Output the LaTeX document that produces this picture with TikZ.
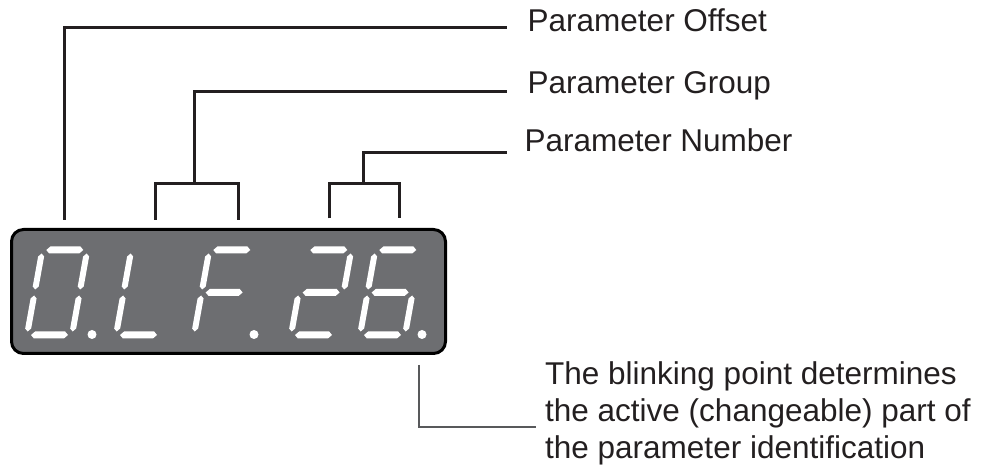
\documentclass[tikz,border=0pt]{standalone}
\usepackage{fontspec}
\setmainfont{Liberation Sans}
\usetikzlibrary{calc, positioning}
\definecolor{panelgray}{RGB}{109,110,113}
\definecolor{leadgray}{RGB}{88,89,91}
\definecolor{inkblack}{RGB}{35,31,32}

% one segment of a seven-segment digit (local cell coordinates)
\newcommand{\hseg}[3]{\fill[white] (#1,#3) -- (#1+3.5,#3+3.5) -- (#2-3.5,#3+3.5) -- (#2,#3) -- (#2-3.5,#3-3.5) -- (#1+3.5,#3-3.5) -- cycle;}
\newcommand{\vseg}[3]{\fill[white] (#1,#2) -- (#1+3,#2+3) -- (#1+3,#3-3) -- (#1,#3) -- (#1-3,#3-3) -- (#1-3,#2+3) -- cycle;}
\newcommand{\sega}{\hseg{4}{41}{85}}
\newcommand{\segb}{\vseg{45}{45.5}{81.5}}
\newcommand{\segc}{\vseg{45}{3.5}{39.5}}
\newcommand{\segd}{\hseg{4}{41}{0}}
\newcommand{\sege}{\vseg{0}{3.5}{39.5}}
\newcommand{\segf}{\vseg{0}{45.5}{81.5}}
\newcommand{\segg}{\hseg{4}{41}{42.5}}

\begin{document}
\begin{tikzpicture}[x=1pt, y=1pt,
    panel/.style={draw=black, line width=3pt, fill=panelgray, rounded corners=12pt,
                  minimum width=434pt, minimum height=124pt, inner sep=0pt},
    digitcell/.style={shift={(#1,133)}, xslant=0.18},
    tagtext/.style={inner sep=0pt, text=inkblack, font=\fontsize{31.5}{37}\selectfont},
    leader/.style={draw=inkblack, line width=3pt},
    thinleader/.style={draw=leadgray, line width=2pt}]
    \useasboundingbox (0,0) rectangle (986,468);

    % display panel
    \node[panel] (disp) at (228.5,176.5) {};

    % digits: 0. L F. 2 6.
    \begin{scope}[digitcell=27]  \sega\segb\segc\segd\sege\segf \end{scope}
    \begin{scope}[digitcell=116] \segd\sege\segf \end{scope}
    \begin{scope}[digitcell=194] \sega\sege\segf\segg \end{scope}
    \begin{scope}[digitcell=291] \sega\segb\segg\sege\segd \end{scope}
    \begin{scope}[digitcell=360] \sega\segf\segg\sege\segc\segd \end{scope}

    % decimal points
    \fill[white] (92,133.5) circle (4.5);
    \fill[white] (254,133.5) circle (4.5);
    \fill[white] (422,133.5) circle (4.5);

    % labels
    \node[tagtext, anchor=base west] (lbloffset) at (527.5,436) {Parameter Offset};
    \node[tagtext, anchor=base west] (lblgroup) at (527.5,374) {Parameter Group};
    \node[tagtext, anchor=base west] (lblnumber) at (524.5,316.3) {Parameter Number};
    \node[tagtext, anchor=north west, align=left] (lblblink) at (545,107)
        {The blinking point determines\\the active (changeable) part of\\the parameter identification};

    % bracket ends above the display
    \coordinate (ofsleg) at (64,248);
    \coordinate (grpleft) at (155,248);
    \coordinate (grpright) at (238,248);
    \coordinate (numleft) at (329,249.7);
    \coordinate (numright) at (399,249.7);
    \coordinate (blink) at (419,103);

    % leader lines
    \draw[leader] (ofsleg) |- ($(lbloffset.base west)+(-21,4)$);
    \draw[leader] (grpleft) -- ++(0,36.7) -| (grpright);
    \draw[leader] ($(grpleft)!0.48!(grpright)+(0,36.7)$) |- ($(lblgroup.base west)+(-21,2.3)$);
    \draw[leader] (numleft) -- ++(0,35) -| (numright);
    \draw[leader] ($(numleft)!0.49!(numright)+(0,35)$) |- ($(lblnumber.base west)+(-18,-1)$);
    \draw[thinleader] (blink) |- ($(lblblink.north west)+(-9,-66)$);
\end{tikzpicture}
\end{document}
